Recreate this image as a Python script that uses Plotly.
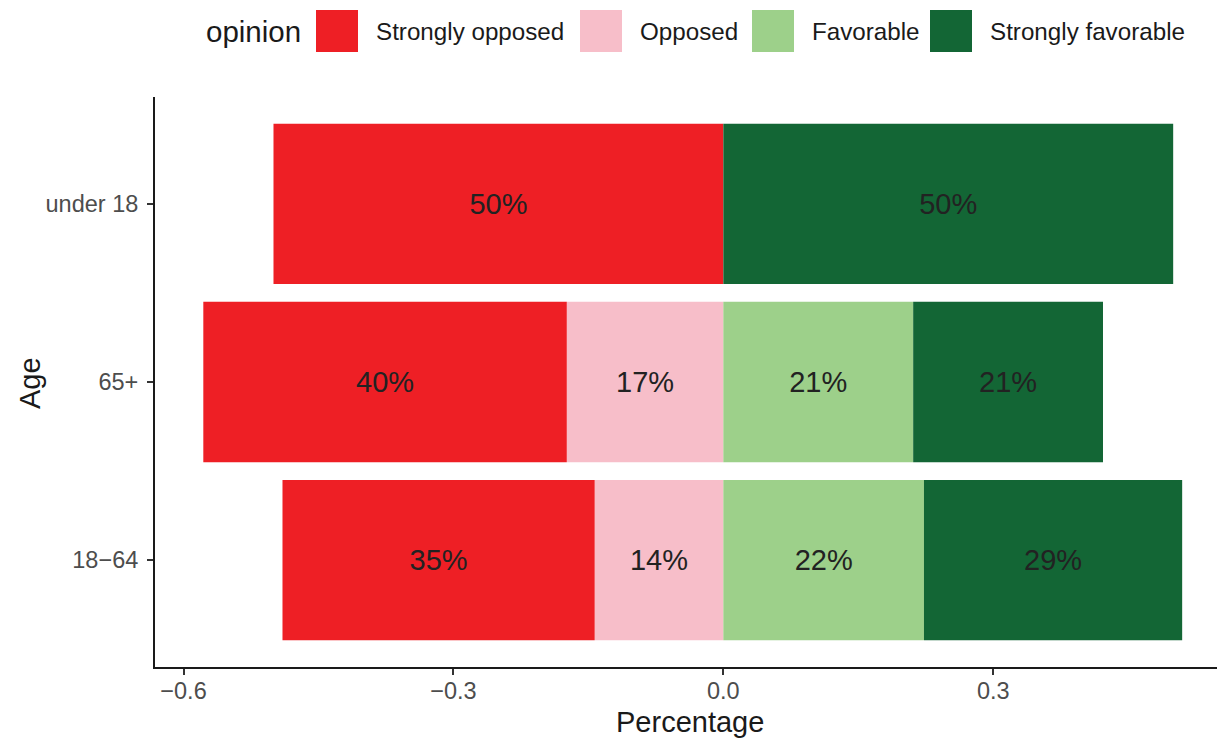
import plotly.graph_objects as go

# ---- data ----
ages = ["18\u221264", "65+", "under 18"]
strongly_opposed = [0.347, 0.404, 0.500]
opposed = [0.143, 0.174, None]
favorable = [0.223, 0.211, None]
strongly_favorable = [0.287, 0.211, 0.500]

opinions = ["Strongly opposed", "Opposed", "Favorable", "Strongly favorable"]
colors = {"Strongly opposed": "#EE1F25", "Opposed": "#F7BEC9",
          "Favorable": "#9DD08A", "Strongly favorable": "#136635"}

x_ticks = [-0.6, -0.3, 0.0, 0.3]
x_ticktext = ["\u22120.6", "\u22120.3", "0.0", "0.3"]

FONT = "Liberation Sans, Arial, sans-serif"
OFF = 8  # page body margin
W, H = 1217, 732
L, R, T, B = 147, 0, 89, 73


def lab(v):
    return "" if v is None else f"{round(v * 100):.0f}%"


def neg(vals):
    return [None if v is None else -v for v in vals]


fig = go.Figure()
series = [("Opposed", neg(opposed), opposed),
          ("Strongly opposed", neg(strongly_opposed), strongly_opposed),
          ("Favorable", favorable, favorable),
          ("Strongly favorable", strongly_favorable, strongly_favorable)]
for name, xs, raw in series:
    fig.add_trace(go.Bar(
        y=ages, x=xs, orientation="h", name=name,
        marker=dict(color=colors[name], line=dict(width=0)),
        width=0.9,
        text=[lab(v) for v in raw],
        textposition="inside", insidetextanchor="middle", textangle=0,
        insidetextfont=dict(family=FONT, size=29, color="#222222"),
        showlegend=False, cliponaxis=False,
    ))

# ---- helpers: page pixel -> paper coords ----
pw, ph = W - L - R, H - T - B


def xp(px):
    return (px - OFF - L) / pw


def yp(py):
    return (H - B - (py - OFF)) / ph


# ---- custom legend (ggplot-like large keys) ----
legend_key_x = [316, 580, 752, 930]
for name, kx in zip(opinions, legend_key_x):
    fig.add_shape(type="rect", xref="paper", yref="paper",
                  x0=xp(kx), x1=xp(kx + 42), y0=yp(52), y1=yp(10),
                  fillcolor=colors[name], line=dict(width=0))
    fig.add_annotation(xref="paper", yref="paper", x=xp(kx + 58), y=yp(31),
                       text=name, showarrow=False, xanchor="left", yanchor="middle",
                       font=dict(family=FONT, size=24.2, color="#1a1a1a"))
fig.add_annotation(xref="paper", yref="paper", x=xp(204), y=yp(31),
                   text="opinion", showarrow=False, xanchor="left", yanchor="middle",
                   font=dict(family=FONT, size=29.5, color="#1a1a1a"))

# axis titles
fig.add_annotation(xref="paper", yref="paper", x=xp(690), y=yp(722),
                   text="Percentage", showarrow=False, xanchor="center", yanchor="middle",
                   font=dict(family=FONT, size=29, color="#1a1a1a"))
fig.add_annotation(xref="paper", yref="paper", x=xp(30), y=yp(383),
                   text="Age", showarrow=False, textangle=-90,
                   xanchor="center", yanchor="middle",
                   font=dict(family=FONT, size=29, color="#1a1a1a"))

fig.update_layout(
    width=W, height=H, barmode="relative", bargap=0.1,
    plot_bgcolor="white", paper_bgcolor="white",
    margin=dict(l=L, r=R, t=T, b=B, autoexpand=False),
    font=dict(family=FONT),
    xaxis=dict(range=[-0.6317, 0.5576], tickvals=x_ticks, ticktext=x_ticktext,
               showgrid=False, zeroline=False, showline=True, linecolor="#1a1a1a",
               linewidth=2, ticks="outside", ticklen=6, tickwidth=2, tickcolor="#333333",
               ticklabelstandoff=-4,
               tickfont=dict(family=FONT, size=23.5, color="#4D4D4D")),
    yaxis=dict(range=[-0.6, 2.6], categoryorder="array", categoryarray=ages,
               showgrid=False, zeroline=False, showline=True, linecolor="#1a1a1a",
               linewidth=2, ticks="outside", ticklen=6, tickwidth=2, tickcolor="#333333",
               ticklabelstandoff=4,
               tickfont=dict(family=FONT, size=23.5, color="#4D4D4D")),
)

fig.write_html("out.html")
